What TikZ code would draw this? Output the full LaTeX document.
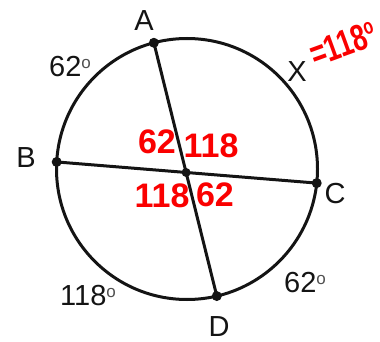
\documentclass[tikz,border=0pt]{standalone}
\usepackage{fontspec}
\setmainfont{Liberation Sans}
\usetikzlibrary{calc}
\definecolor{ink}{RGB}{20,20,20}
\definecolor{hand}{RGB}{250,0,0}
\begin{document}
\begin{tikzpicture}[x=1pt,y=-1pt,
  pt/.style={circle,fill=ink,inner sep=0pt,minimum size=10pt},
  chord/.style={draw=ink,line width=3pt},
  lbl/.style={text=ink,font=\fontsize{29}{30}\selectfont,inner sep=0pt},
  red/.style={text=hand,font=\fontsize{34}{34}\selectfont\bfseries,inner sep=0pt}]
\useasboundingbox (0,0) rectangle (380,342);
\newcommand{\dego}{\raisebox{0.3em}{\fontsize{17}{17}\selectfont\color{ink!75}o}}
\coordinate (O) at (187,169);
\draw[ink,line width=3pt] (O) circle[radius=130.5pt];
\node[pt] (A) at ($(O)+(-104.7:130.5)$) {};
\node[pt] (B) at ($(O)+(-176.9:130.5)$) {};
\node[pt] (C) at ($(O)+(6.2:130.5)$) {};
\node[pt] (D) at ($(O)+(76.8:130.5)$) {};
\draw[chord] (A.center) -- (D.center);
\draw[chord] (B.center) -- (C.center);
\node[pt,minimum size=9pt] (E) at (intersection of A--D and B--C) {};
% point labels
\node[lbl] (lA) at (144,21) {A};
\node[lbl] (lB) at (26,158) {B};
\node[lbl] (lC) at (335,194) {C};
\node[lbl] (lD) at (219,327) {D};
% arc labels
\node[lbl] (a1) at (70,67) {62\dego};
\node[lbl] (a2) at (88,296) {118\dego};
\node[lbl] (a3) at (305,283) {62\dego};
\node[lbl] (lX) at (297,72) {X};
% handwritten red
\node[red] (r1) at (157,142) {62};
\node[red] (r2) at (211,146) {118};
\node[red] (r3) at (162,196) {118};
\node[red] (r4) at (215,195) {62};
\node[red,rotate=20,xscale=0.72,font=\fontsize{37}{37}\selectfont\bfseries] (r5) at (343,44) {=118\raisebox{0.35em}{\fontsize{22}{22}\selectfont o}};
\end{tikzpicture}
\end{document}
